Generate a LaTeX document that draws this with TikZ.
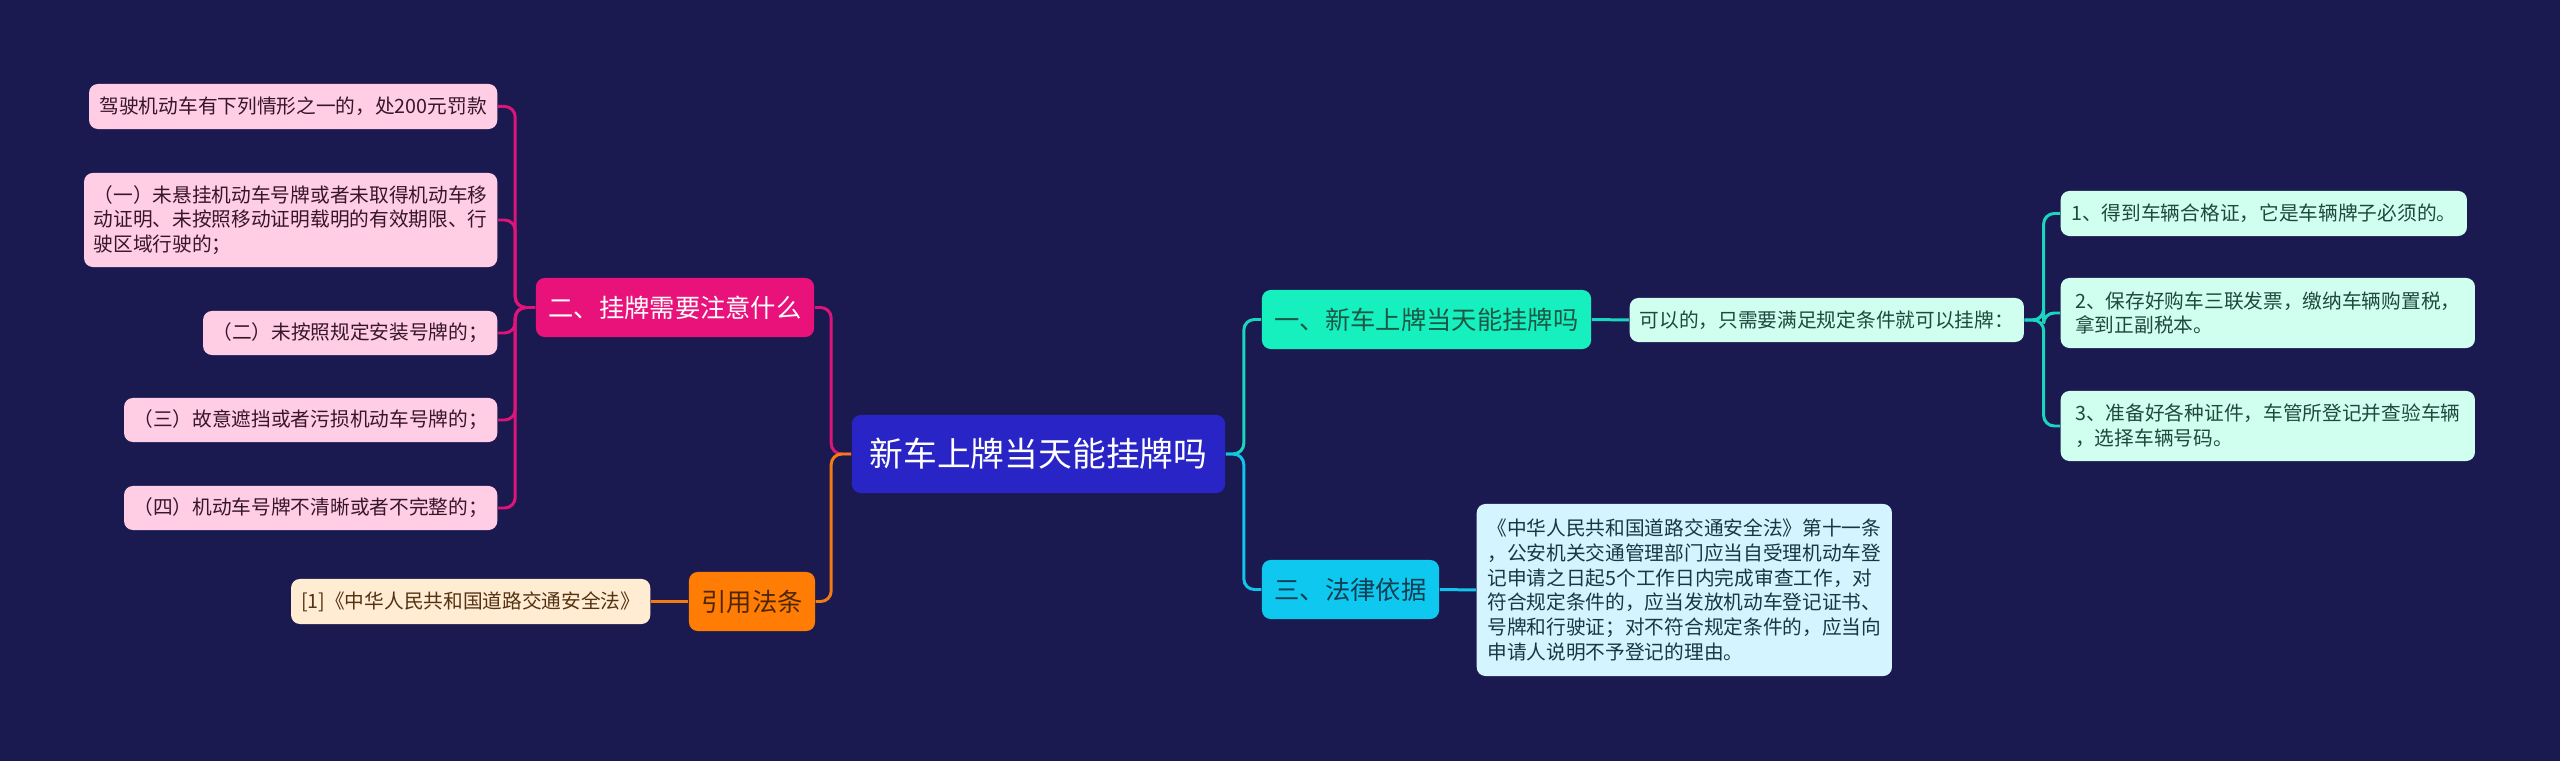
\documentclass[tikz,border=0pt]{standalone}
\usepackage{fontspec}
\setmainfont{Noto Sans CJK SC}
\usepackage{tikz}
\usetikzlibrary{positioning,calc}
\usepackage{xcolor}
\definecolor{night}{RGB}{27,26,80}
\definecolor{rootblue}{RGB}{40,36,198}
\definecolor{mint}{RGB}{22,240,190}
\definecolor{skycyan}{RGB}{14,200,240}
\definecolor{hotpink}{RGB}{233,18,122}
\definecolor{tangerine}{RGB}{255,125,5}
\definecolor{mintleaf}{RGB}{208,255,240}
\definecolor{skyleaf}{RGB}{212,244,255}
\definecolor{pinkleaf}{RGB}{255,206,228}
\definecolor{peachleaf}{RGB}{255,236,210}
\definecolor{tealline}{RGB}{26,214,190}
\definecolor{cyanline}{RGB}{16,196,236}
\definecolor{pinkline}{RGB}{222,20,122}
\definecolor{orangeline}{RGB}{244,122,18}
\newcommand{\rootfont}{\fontsize{9.6}{11}\selectfont}
\newcommand{\topicfont}{\fontsize{7.2}{8.5}\selectfont}
\newcommand{\leaffont}{\fontsize{5.6}{7}\selectfont}

\begin{document}
\begin{tikzpicture}[x=0.01cm,y=-0.01cm,
  box/.style={rounded corners=2.5pt,inner sep=0pt,align=left},
  topic/.style={box,font=\topicfont,minimum height=0.59cm},
  leaf/.style={box,font=\leaffont,minimum height=0.44cm},
  link/.style={line width=0.85pt,rounded corners=3pt}]
\fill[night] (0,0) rectangle (2560,761);
% centre
\node[box,fill=rootblue,text=white,font=\rootfont,minimum width=3.73cm,minimum height=0.78cm] (root) at (1038.5,454) {新车上牌当天能挂牌吗};
% right side
\node[topic,fill=mint,text={rgb,255:red,28;green,88;blue,70},minimum width=3.29cm] (one) at (1426.5,319.5) {一、新车上牌当天能挂牌吗};
\node[topic,fill=skycyan,text={rgb,255:red,18;green,62;blue,82},minimum width=1.77cm] (three) at (1350.5,589.5) {三、法律依据};
\node[leaf,fill=mintleaf,text={rgb,255:red,32;green,72;blue,62},minimum width=3.94cm,anchor=west] (yes) at (1629,320) {可以的，只需要满足规定条件就可以挂牌：};
\node[leaf,fill=mintleaf,text={rgb,255:red,32;green,72;blue,62},minimum width=4.06cm,minimum height=0.45cm,anchor=west] (r1) at (2060,213.5) {1、得到车辆合格证，它是车辆牌子必须的。};
\node[leaf,fill=mintleaf,text={rgb,255:red,32;green,72;blue,62},minimum width=4.14cm,minimum height=0.7cm,anchor=west] (r2) at (2060,313) {2、保存好购车三联发票，缴纳车辆购置税，\\拿到正副税本。};
\node[leaf,fill=mintleaf,text={rgb,255:red,32;green,72;blue,62},minimum width=4.14cm,minimum height=0.7cm,anchor=west] (r3) at (2060,426) {3、准备好各种证件，车管所登记并查验车辆\\，选择车辆号码。};
\node[leaf,fill=skyleaf,text={rgb,255:red,22;green,56;blue,70},minimum width=4.15cm,minimum height=1.72cm,anchor=west] (law) at (1476,590) {《中华人民共和国道路交通安全法》第十一条\\，公安机关交通管理部门应当自受理机动车登\\记申请之日起5个工作日内完成审查工作，对\\符合规定条件的，应当发放机动车登记证书、\\号牌和行驶证；对不符合规定条件的，应当向\\申请人说明不予登记的理由。};
% left side
\node[topic,fill=hotpink,text=white,minimum width=2.78cm] (two) at (675,307.5) {二、挂牌需要注意什么};
\node[topic,fill=tangerine,text={rgb,255:red,78;green,38;blue,4},minimum width=1.26cm] (cite) at (752,601.5) {引用法条};
\node[leaf,fill=peachleaf,text={rgb,255:red,84;green,50;blue,18},minimum width=3.59cm,minimum height=0.45cm,anchor=east] (ref) at (651,601.5) {[1]《中华人民共和国道路交通安全法》};
\node[leaf,fill=pinkleaf,text={rgb,255:red,56;green,22;blue,42},minimum width=4.08cm,minimum height=0.45cm,anchor=east] (l1) at (498,106.5) {驾驶机动车有下列情形之一的，处200元罚款};
\node[leaf,fill=pinkleaf,text={rgb,255:red,56;green,22;blue,42},minimum width=4.13cm,minimum height=0.94cm,anchor=east] (l2) at (498,220) {（一）未悬挂机动车号牌或者未取得机动车移\\动证明、未按照移动证明载明的有效期限、行\\驶区域行驶的；};
\node[leaf,fill=pinkleaf,text={rgb,255:red,56;green,22;blue,42},minimum width=2.94cm,anchor=east] (l3) at (498,333) {（二）未按照规定安装号牌的；};
\node[leaf,fill=pinkleaf,text={rgb,255:red,56;green,22;blue,42},minimum width=3.73cm,anchor=east] (l4) at (498,420) {（三）故意遮挡或者污损机动车号牌的；};
\node[leaf,fill=pinkleaf,text={rgb,255:red,56;green,22;blue,42},minimum width=3.73cm,anchor=east] (l5) at (498,508) {（四）机动车号牌不清晰或者不完整的；};
% connectors
\draw[link,tealline] (root.east) -- ++(18,0) |- (one.west);
\draw[link,cyanline] (root.east) -- ++(18,0) |- (three.west);
\draw[link,tealline] (one.east) -- (yes.west);
\foreach \r in {r1,r2,r3}
  \draw[link,tealline] (yes.east) -- ++(19,0) |- (\r.west);
\draw[link,cyanline] (three.east) -- (law.west);
\draw[link,pinkline] (root.west) -- ++(-20,0) |- (two.east);
\draw[link,orangeline] (root.west) -- ++(-20,0) |- (cite.east);
\draw[link,orangeline] (cite.west) -- (ref.east);
\foreach \l in {l1,l2,l3,l4,l5}
  \draw[link,pinkline] (two.west) -- ++(-20,0) |- (\l.east);
\end{tikzpicture}
\end{document}
